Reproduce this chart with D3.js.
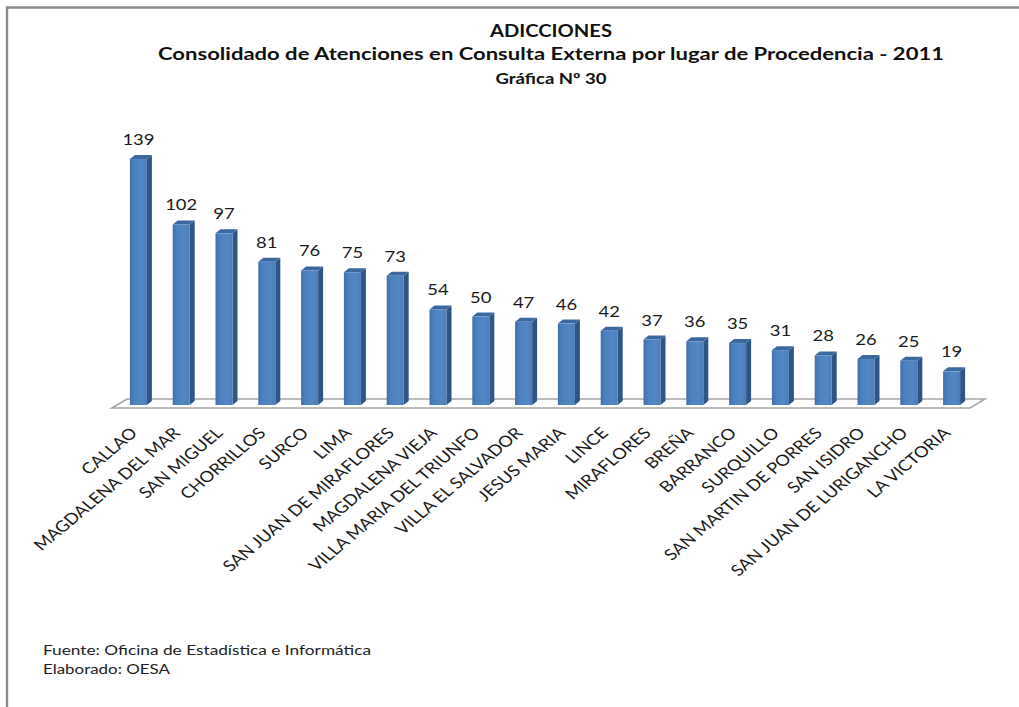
<!DOCTYPE html>
<html>
<head>
<meta charset="utf-8">
<script src="https://cdn.jsdelivr.net/npm/d3@7"></script>
<style>
  html, body { margin: 0; padding: 0; background: #fff; }
  svg { display: block; }
  text { font-family: Lato, "Liberation Sans", Arial, sans-serif; }
</style>
</head>
<body>
<svg id="chart" width="1019" height="707"></svg>
<script>
const categories = ["CALLAO", "MAGDALENA DEL MAR", "SAN MIGUEL", "CHORRILLOS", "SURCO", "LIMA",
  "SAN JUAN DE MIRAFLORES", "MAGDALENA VIEJA", "VILLA MARIA DEL TRIUNFO", "VILLA EL SALVADOR",
  "JESUS MARIA", "LINCE", "MIRAFLORES", "BREÑA", "BARRANCO", "SURQUILLO", "SAN MARTIN DE PORRES",
  "SAN ISIDRO", "SAN JUAN DE LURIGANCHO", "LA VICTORIA"];
const values = [139, 102, 97, 81, 76, 75, 73, 54, 50, 47, 46, 42, 37, 36, 35, 31, 28, 26, 25, 19];
const titleLines = ["ADICCIONES",
  "Consolidado de Atenciones en Consulta Externa por lugar de Procedencia - 2011",
  "Gráfica Nº 30"];
const footerLines = ["Fuente: Oficina de Estadística e Informática", "Elaborado: OESA"];

const svg = d3.select("#chart");
const SX = 1.19; // horizontal stretch of the original picture

// frame
svg.append("path")
  .attr("d", "M7,707 L7,7.5 L1019,7.5")
  .attr("fill", "none").attr("stroke", "#8a8a8a").attr("stroke-width", 2.4);

// scales
const x = d3.scaleBand().domain(categories).range([118, 974]).paddingInner(0).paddingOuter(0);
const y = d3.scaleLinear().domain([0, 139]).range([405, 159]);
const faceW = 17, dx = 5, dy = 4;

// gradients
const defs = svg.append("defs");
const gFront = defs.append("linearGradient").attr("id", "gFront").attr("x1", "0").attr("x2", "1").attr("y1", "0").attr("y2", "0");
gFront.append("stop").attr("offset", "0").attr("stop-color", "#4170aa");
gFront.append("stop").attr("offset", "0.25").attr("stop-color", "#4d80be");
gFront.append("stop").attr("offset", "0.7").attr("stop-color", "#5387c4");
gFront.append("stop").attr("offset", "1").attr("stop-color", "#4b7cb9");

// floor
const fx0 = x.range()[0] - 6, fx1 = x.range()[1] - 4, fy = 408;
svg.append("path")
  .attr("d", `M${fx0},${fy} L${fx0 + 15},${fy - 9} L${fx1 + 15},${fy - 9} L${fx1},${fy} Z`)
  .attr("fill", "#fff").attr("stroke", "#a6a6a6").attr("stroke-width", 1.6);

const cx = d => x(d) + x.bandwidth() / 2;

const bars = svg.append("g").selectAll("g").data(categories).join("g");
bars.each(function(c, i) {
  const g = d3.select(this);
  const x0 = cx(c) - faceW / 2 - 1;
  const yt = y(values[i]), yb = y(0);
  g.append("path")
    .attr("d", `M${x0 + faceW},${yt} L${x0 + faceW + dx},${yt - dy} L${x0 + faceW + dx},${yb - dy} L${x0 + faceW},${yb} Z`)
    .attr("fill", "#2f5586");
  g.append("path")
    .attr("d", `M${x0},${yt} L${x0 + dx},${yt - dy} L${x0 + faceW + dx},${yt - dy} L${x0 + faceW},${yt} Z`)
    .attr("fill", "#3c68a0");
  g.append("rect").attr("x", x0).attr("y", yt).attr("width", faceW).attr("height", yb - yt)
    .attr("fill", "url(#gFront)");
});

// value labels
svg.append("g").selectAll("text").data(categories).join("text")
  .attr("transform", (c, i) => `translate(${cx(c) - 1},${y(values[i]) - 14}) scale(${SX},1)`)
  .attr("text-anchor", "middle")
  .attr("font-size", 15.5)
  .attr("fill", "#1a1a1a")
  .text((c, i) => values[i]);

// category labels
svg.append("g").selectAll("text").data(categories).join("text")
  .attr("transform", c => `translate(${cx(c) - 1},434) scale(${SX},1) rotate(-45)`)
  .attr("text-anchor", "end")
  .attr("font-size", 15.4)
  .attr("fill", "#1a1a1a")
  .text(c => c);

// titles
const titleSpec = [
  { y: 36.5, size: 16.5, len: 122 },
  { y: 60, size: 16.5, len: 786 },
  { y: 84, size: 15, len: 111 }
];
svg.append("g").selectAll("text").data(titleLines).join("text")
  .attr("x", 551)
  .attr("y", (d, i) => titleSpec[i].y)
  .attr("text-anchor", "middle")
  .attr("font-weight", "bold")
  .attr("font-size", (d, i) => titleSpec[i].size)
  .attr("textLength", (d, i) => titleSpec[i].len)
  .attr("lengthAdjust", "spacingAndGlyphs")
  .attr("fill", "#111")
  .text(d => d);

// footer
const footerSpec = [{ y: 655, len: 328 }, { y: 674, len: 127 }];
svg.append("g").selectAll("text").data(footerLines).join("text")
  .attr("x", 43)
  .attr("y", (d, i) => footerSpec[i].y)
  .attr("font-size", 13.5)
  .attr("textLength", (d, i) => footerSpec[i].len)
  .attr("lengthAdjust", "spacingAndGlyphs")
  .attr("fill", "#222")
  .text(d => d);
</script>
</body>
</html>
